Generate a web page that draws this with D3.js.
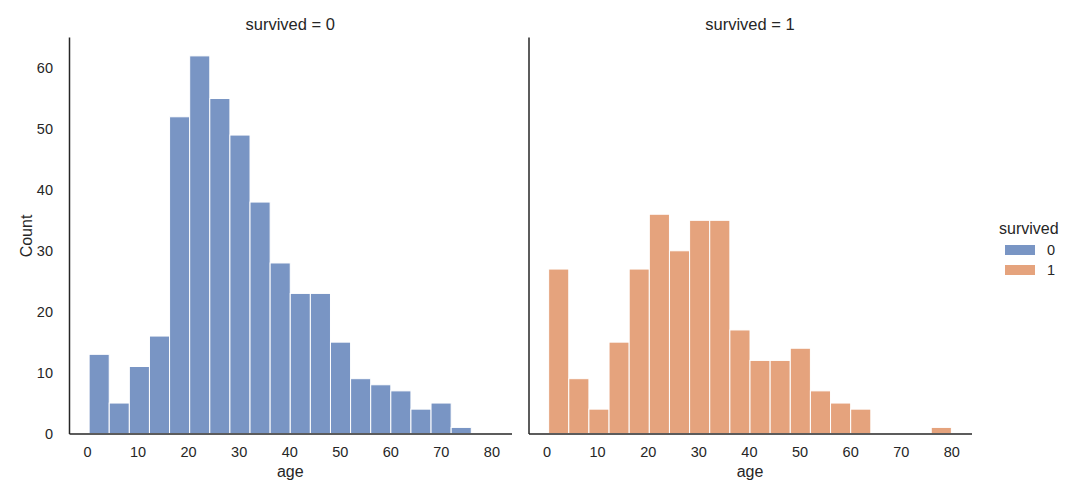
<!DOCTYPE html>
<html>
<head>
<meta charset="utf-8">
<script src="https://cdn.jsdelivr.net/npm/d3@7"></script>
<style>
  body { margin: 0; background: #fff; }
  text { font-family: "Liberation Sans", Arial, sans-serif; fill: #262626; }
</style>
</head>
<body>
<svg id="chart" width="1074" height="500"></svg>
<script>
// bins: 20 equal bins between min and max age
const ageMin = 0.42
const ageMax = 80
const binCount = 20

const survived0 = [13, 5, 11, 16, 52, 62, 55, 49, 38, 28, 23, 23, 15, 9, 8, 7, 4, 5, 1, 0]
const survived1 = [27, 9, 4, 15, 27, 36, 30, 35, 35, 17, 12, 12, 14, 7, 5, 4, 0, 0, 0, 1]

const xTicks = [0, 10, 20, 30, 40, 50, 60, 70, 80]
const yTicks = [0, 10, 20, 30, 40, 50, 60]
const hueLabels = ['0', '1']
const colors = ['#7995c4', '#e5a37d']

const svg = d3.select('#chart')

const plotTop = 37, plotBottom = 433.5
const tickFont = 14.5, labelFont = 16
const panels = [
  {left: 69, right: 511.5, data: survived0, title: 'survived = 0', color: colors[0]},
  {left: 528.5, right: 971.5, data: survived1, title: 'survived = 1', color: colors[1]}
]

const binW = (ageMax - ageMin) / binCount
const pad = (ageMax - ageMin) * 0.05
const yMax = d3.max(survived0.concat(survived1)) * 1.05

const y = d3.scaleLinear().domain([0, yMax]).range([plotBottom, plotTop])

panels.forEach(function (p, pi) {
  const g = svg.append('g')
  const x = d3.scaleLinear()
    .domain([ageMin - pad, ageMax + pad])
    .range([p.left, p.right])

  const bins = p.data.map((v, i) => ({x0: ageMin + i * binW, x1: ageMin + (i + 1) * binW, n: v}))

  g.append('g')
    .selectAll('rect')
    .data(bins.filter(d => d.n > 0))
    .enter()
    .append('rect')
    .attr('x', d => x(d.x0))
    .attr('width', d => x(d.x1) - x(d.x0))
    .attr('y', d => y(d.n))
    .attr('height', d => y(0) - y(d.n))
    .attr('fill', p.color)
    .attr('stroke', '#fff')
    .attr('stroke-width', 1)

  // x axis
  const xa = g.append('g')
    .attr('transform', `translate(0,${plotBottom})`)
    .call(d3.axisBottom(x).tickValues(xTicks).tickSize(0).tickPadding(13))
  xa.select('.domain').attr('stroke', '#262626').attr('stroke-width', 1.5)
  xa.selectAll('text').attr('font-size', tickFont).attr('fill', '#262626')

  // y axis
  const ya = g.append('g')
    .attr('transform', `translate(${p.left},0)`)
    .call(d3.axisLeft(y).tickValues(yTicks).tickSize(0).tickPadding(16))
  ya.select('.domain').attr('stroke', '#262626').attr('stroke-width', 1.5)
  if (pi === 0) {
    ya.selectAll('text').attr('font-size', tickFont).attr('fill', '#262626')
  } else {
    ya.selectAll('text').remove()
  }

  g.append('text')
    .attr('x', (p.left + p.right) / 2)
    .attr('y', 30)
    .attr('text-anchor', 'middle')
    .attr('font-size', 16.5)
    .text(p.title)

  g.append('text')
    .attr('x', (p.left + p.right) / 2)
    .attr('y', 477)
    .attr('text-anchor', 'middle')
    .attr('font-size', labelFont)
    .text('age')
})

svg.append('text')
  .attr('transform', 'translate(32,236) rotate(-90)')
  .attr('text-anchor', 'middle')
  .attr('font-size', labelFont)
  .text('Count')

// legend
const legend = svg.append('g')
legend.append('text')
  .attr('x', 999)
  .attr('y', 234)
  .attr('font-size', labelFont)
  .text('survived')
hueLabels.forEach(function (lab, i) {
  legend.append('rect')
    .attr('x', 1005)
    .attr('y', 245 + i * 20)
    .attr('width', 30)
    .attr('height', 10)
    .attr('fill', colors[i])
  legend.append('text')
    .attr('x', 1047)
    .attr('y', 255 + i * 20)
    .attr('font-size', tickFont)
    .text(lab)
})
</script>
</body>
</html>
